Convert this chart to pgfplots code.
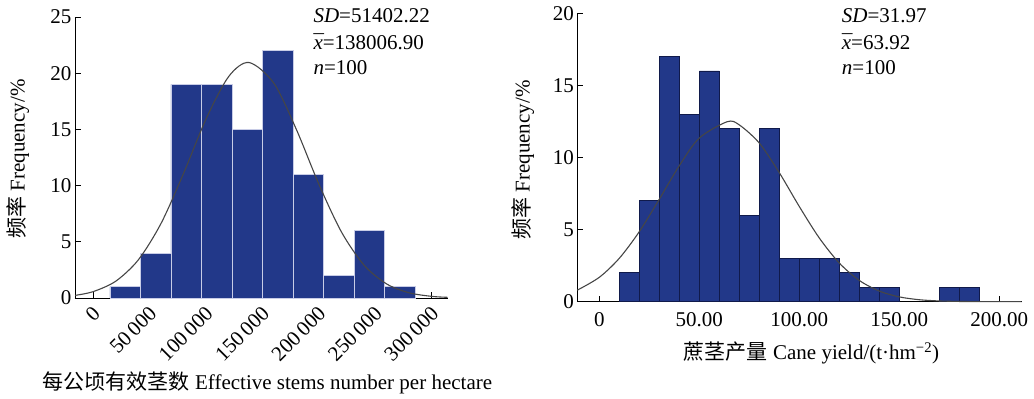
\documentclass[border=0pt]{standalone}
\usepackage{pgfplots}
\pgfplotsset{compat=1.18}
\usepackage{fontspec}
\setmainfont{Liberation Serif}
\newfontfamily\cjk{Noto Sans CJK SC}
\definecolor{barblue}{RGB}{34,56,137}
\definecolor{baredgeL}{RGB}{200,204,230}
\definecolor{baredgeR}{RGB}{16,26,75}
\definecolor{curve}{RGB}{70,70,70}
\newcommand{\fs}{\fontsize{21}{24}\selectfont}
\newcommand{\xbar}{\ooalign{\textit{x}\cr\hidewidth\textit{¯}\hidewidth\cr}}
\begin{document}
\begin{tikzpicture}
\useasboundingbox (0,0) rectangle (1034pt,399pt);
\pgfplotsset{
  every axis/.append style={
    scale only axis,
    anchor=south west,
    axis lines=left,
    axis line style={-, line width=0.8pt},
    tick align=inside,
    major tick length=6pt,
    every tick/.style={black, line width=0.8pt},
    tick label style={font=\fs},
    label style={font=\fs},
    /pgf/number format/assume math mode=true,
    enlargelimits=false,
    clip=false,
  }
}
% ---------------- left ----------------
\begin{axis}[
  at={(75pt,101pt)},
  width=373.3pt, height=281pt,
  xmin=-16220, xmax=314700, ymin=0, ymax=25,
  ytick={0,5,10,15,20,25},
  xtick={0,50000,100000,150000,200000,250000,300000},
  xticklabels={0,50\,000,100\,000,150\,000,200\,000,250\,000,300\,000},
  scaled x ticks=false,
  xticklabel style={xshift=3.3pt, yshift=-12pt, rotate=45, anchor=east, inner sep=0pt},
  xlabel={{\cjk 每公顷有效茎数} Effective stems number per hectare},
  ylabel={{\cjk 频率} Frequency/\%},
  xlabel style={at={(axis description cs:0.5157,-0.3025)}, anchor=center},
  ylabel style={at={(axis description cs:-0.1527,0.4947)}, anchor=center},
]
\addplot[ybar interval, fill=barblue, draw=baredgeL, line width=0.8pt] coordinates {
(14800,1) (41840,4) (68880,19) (95920,19) (122960,15) (150000,22)
(177040,11) (204080,2) (231120,6) (258160,1) (285200,0)};
\addplot[smooth, curve, line width=1.1pt] coordinates {
(-16000,0.235) (0,0.570) (20000,1.502) (40000,3.402) (60000,6.625)
(80000,11.08) (100000,15.94) (120000,19.70) (138007,20.95) (160000,19.12)
(180000,15.00) (200000,10.12) (220000,5.870) (240000,2.926) (260000,1.253)
(280000,0.4615) (300000,0.146) (314000,0.060)};
\end{axis}
% ---------------- right ----------------
\begin{axis}[
  at={(577.3pt,97.3pt)},
  width=444.4pt, height=288.4pt,
  xmin=-11, xmax=211.2, ymin=0, ymax=20,
  ytick={0,5,10,15,20},
  xtick={0,50,100,150,200},
  xticklabels={0,50.00,100.00,150.00,200.00},
  xticklabel style={yshift=-7pt},
  xlabel={{\cjk 蔗茎产量} Cane yield/(t·hm\textsuperscript{−2})},
  ylabel={{\cjk 频率} Frequency/\%},
  xlabel style={at={(axis description cs:0.527,-0.178)}, anchor=center},
  ylabel style={at={(axis description cs:-0.1222,0.4913)}, anchor=center},
]
\addplot[ybar interval, fill=barblue, draw=baredgeR, line width=0.8pt] coordinates {
(10,2) (20,7) (30,17) (40,13) (50,16) (60,12) (70,6) (80,12) (90,3)
(100,3) (110,3) (120,2) (130,1) (140,1) (150,0)};
\addplot[ybar interval, fill=barblue, draw=baredgeR, line width=0.8pt] coordinates {
(170,1) (180,1) (190,0)};
\addplot[smooth, curve, line width=1.1pt] coordinates {
(-11,0.801) (0,1.691) (10,3.010) (20,4.857) (30,7.108) (40,9.432)
(50,11.35) (63.92,12.48) (70,12.26) (80,11.00) (90,8.947) (100,6.601)
(110,4.417) (120,2.680) (130,1.474) (140,0.735) (150,0.333) (160,0.136)
(170,0.051) (180,0.017) (190,0.005) (211,0.0)};
\end{axis}
% ---------------- statistics ----------------
\node[anchor=base west, font=\fs, inner sep=0pt] at (313.3pt,376pt) {\textit{SD}=51402.22};
\node[anchor=base west, font=\fs, inner sep=0pt] at (313.3pt,349pt) {\xbar=138006.90};
\node[anchor=base west, font=\fs, inner sep=0pt] at (313.3pt,324pt) {\textit{n}=100};
\node[anchor=base west, font=\fs, inner sep=0pt] at (841.7pt,376pt) {\textit{SD}=31.97};
\node[anchor=base west, font=\fs, inner sep=0pt] at (841.7pt,349pt) {\xbar=63.92};
\node[anchor=base west, font=\fs, inner sep=0pt] at (841.7pt,324pt) {\textit{n}=100};
\end{tikzpicture}
\end{document}
